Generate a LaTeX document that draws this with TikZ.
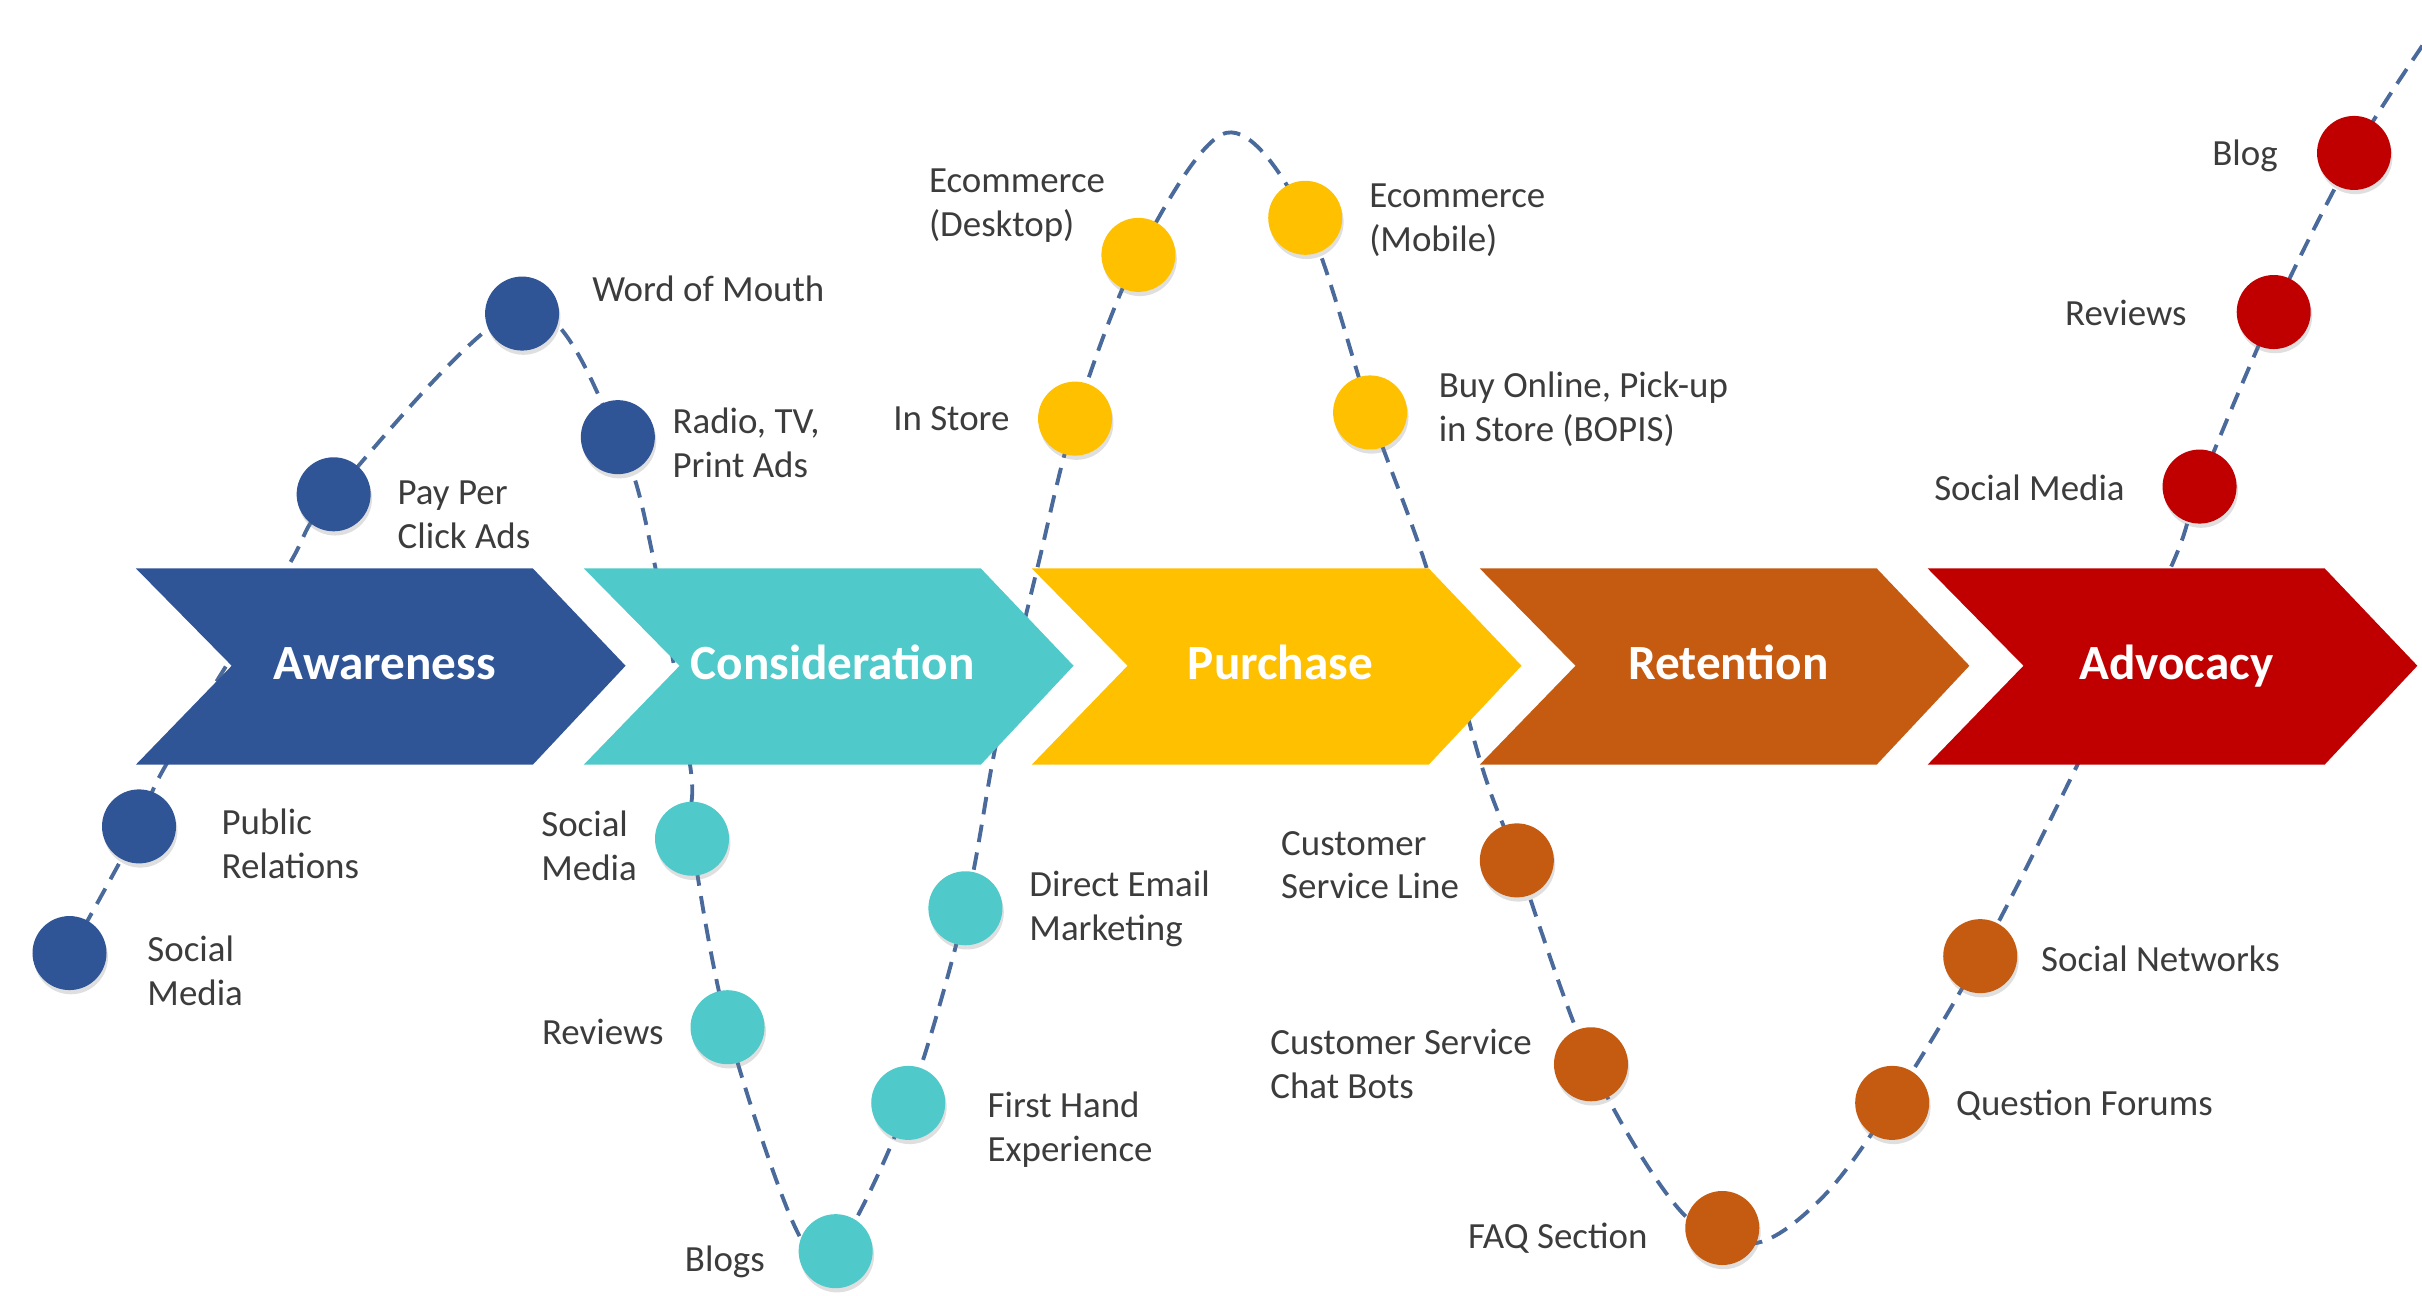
\documentclass[tikz,border=0pt]{standalone}
\usepackage{fontspec}
\setmainfont{Carlito}
\usetikzlibrary{shadows}
\definecolor{cblue}{HTML}{2F5597}
\definecolor{cteal}{HTML}{4FC9C9}
\definecolor{cyellow}{HTML}{FFC000}
\definecolor{corange}{HTML}{C55A11}
\definecolor{cred}{HTML}{C00000}
\definecolor{cline}{HTML}{4A6A9C}
\definecolor{txtgray}{HTML}{3C3C3C}
\tikzset{
  dot/.style={circle, fill=#1, minimum size=0.74cm, inner sep=0pt,
    drop shadow={opacity=0.25, shadow xshift=0.4pt, shadow yshift=-1.2pt}},
  lbl/.style={font=\fontsize{10.5}{12.5}\selectfont, text=txtgray, inner sep=0pt, align=left},
  stagelbl/.style={font=\bfseries\fontsize{14}{16}\selectfont, text=white, inner sep=0pt, anchor=base},
  journey/.style={cline, line width=1.1pt, dash pattern=on 5pt off 3pt}
}
\begin{document}
\begin{tikzpicture}[x=0.015446cm, y=-0.015446cm]
\useasboundingbox (0,0) rectangle (1568,839);
% circle centres
\coordinate (a1) at (45,617);
\coordinate (a2) at (90,535);
\coordinate (a3) at (216,320);
\coordinate (a4) at (338,203);
\coordinate (a5) at (400,283);
\coordinate (c1) at (448,543);
\coordinate (c2) at (471,665);
\coordinate (c3) at (541,810);
\coordinate (c4) at (588,714);
\coordinate (c5) at (625,588);
\coordinate (p1) at (696,271);
\coordinate (p2) at (737,165);
\coordinate (p3) at (845,141);
\coordinate (p4) at (887,267);
\coordinate (r1) at (982,557);
\coordinate (r2) at (1030,689);
\coordinate (r3) at (1115,795);
\coordinate (r4) at (1225,714);
\coordinate (r5) at (1282,619);
\coordinate (d1) at (1424,315);
\coordinate (d2) at (1472,202);
\coordinate (d3) at (1524,99);
\coordinate (top) at (1572,24);
% dashed journey line
\draw[journey] plot[smooth, tension=0.55] coordinates {
  (a1) (a2) (107,496) (185,369) (a3) (338,200) (a5) (424,366) (447,497) (c1)
  (c2) (515,795) (c3) (c4) (c5) (645,481) (672,366) (p1) (p2) (794,86) (p3) (p4)
  (924,369) (959,495) (r1) (r2) (1088,784) (1135,805) (1180,775) (r4) (r5)
  (1344,497) (1406,366) (d1) (d2) (d3) (top)};
% stage chevrons
\foreach \i/\col/\nm/\txt in {0/cblue/aw/Awareness, 1/cteal/co/Consideration,
    2/cyellow/pu/Purchase, 3/corange/re/Retention, 4/cred/ad/Advocacy}{
  \pgfmathsetmacro\xo{88+290*\i}
  \fill[\col] (\xo,368) -- (\xo+257,368) -- (\xo+317,431) -- (\xo+257,495)
    -- (\xo,495) -- (\xo+62,431) -- cycle;
  \node[stagelbl] (st\nm) at (\xo+161,440) {\txt};
}
% circles
\foreach \c/\col in {a1/cblue,a2/cblue,a3/cblue,a4/cblue,a5/cblue,
  c1/cteal,c2/cteal,c3/cteal,c4/cteal,c5/cteal,
  p1/cyellow,p2/cyellow,p3/cyellow,p4/cyellow,
  r1/corange,r2/corange,r3/corange,r4/corange,r5/corange,
  d1/cred,d2/cred,d3/cred}{
  \node[dot=\col] (n\c) at (\c) {};
}
% labels (two-line labels: base = baseline of the last line)
\node[lbl, anchor=base west] (la1) at (95,651) {Social\\Media};
\node[lbl, anchor=base west] (la2) at (143,569) {Public\\Relations};
\node[lbl, anchor=base west] (la3) at (257,355) {Pay Per\\Click Ads};
\node[lbl, anchor=base west] (la4) at (383,195) {Word of Mouth};
\node[lbl, anchor=base west] (la5) at (435,309) {Radio, TV,\\Print Ads};
\node[lbl, anchor=base west] (lc1) at (350,570) {Social\\Media};
\node[lbl, anchor=base east] (lc2) at (430,676) {Reviews};
\node[lbl, anchor=base west] (lc3) at (443,823) {Blogs};
\node[lbl, anchor=base west] (lc4) at (639,752) {First Hand\\Experience};
\node[lbl, anchor=base west] (lc5) at (666,609) {Direct Email\\Marketing};
\node[lbl, anchor=base east] (lp1) at (654,279) {In Store};
\node[lbl, anchor=base west] (lp2) at (601,153) {Ecommerce\\(Desktop)};
\node[lbl, anchor=base west] (lp3) at (886,163) {Ecommerce\\(Mobile)};
\node[lbl, anchor=base west] (lp4) at (931,286) {Buy Online, Pick-up\\in Store (BOPIS)};
\node[lbl, anchor=base west] (lr1) at (829,582) {Customer\\Service Line};
\node[lbl, anchor=base west] (lr2) at (822,711) {Customer Service\\Chat Bots};
\node[lbl, anchor=base west] (lr3) at (950,808) {FAQ Section};
\node[lbl, anchor=base west] (lr4) at (1266,722) {Question Forums};
\node[lbl, anchor=base west] (lr5) at (1321,629) {Social Networks};
\node[lbl, anchor=base east] (ld1) at (1376,324) {Social Media};
\node[lbl, anchor=base east] (ld2) at (1416,211) {Reviews};
\node[lbl, anchor=base east] (ld3) at (1475,107) {Blog};
\end{tikzpicture}
\end{document}
